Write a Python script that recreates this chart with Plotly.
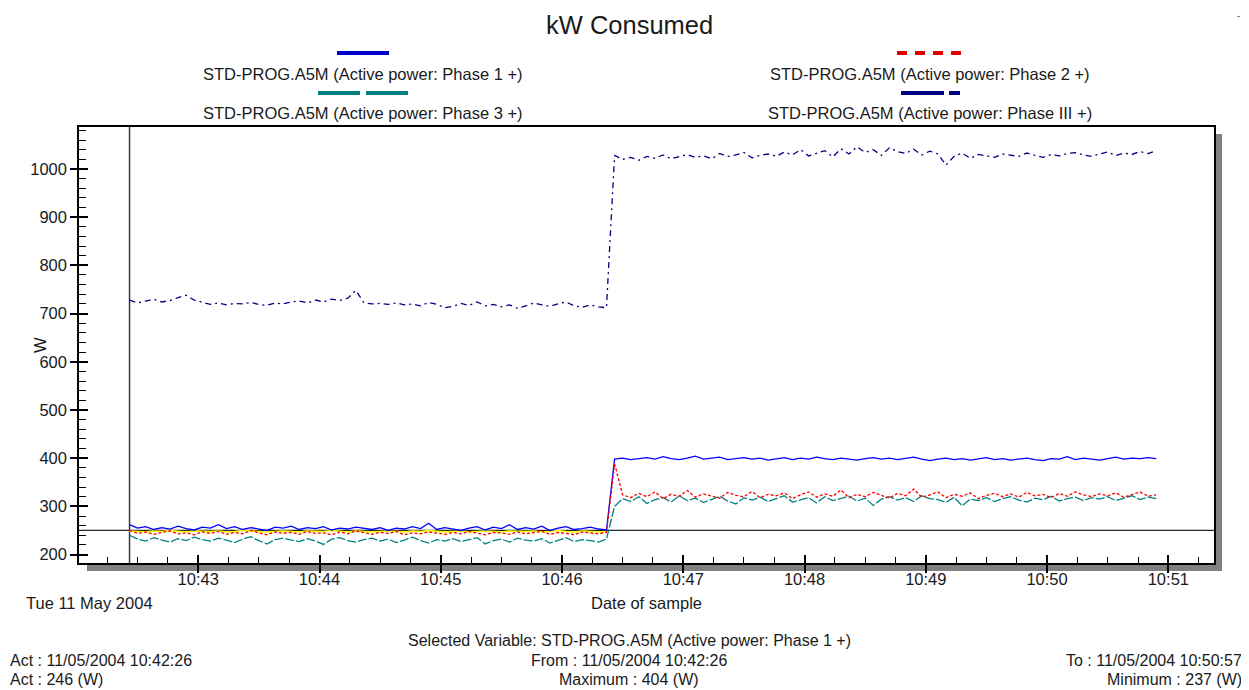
import pandas as pd
import plotly.graph_objects as go

# ---------------- data ----------------
start_time = "2004-05-11 10:42:26"
sample_seconds = 4
n_samples = 128
times = pd.date_range(start_time, periods=n_samples, freq=f"{sample_seconds}s")

phase1 = [
    262, 255, 258, 252, 256, 253, 259, 254, 251, 257,
    255, 262, 254, 258, 252, 256, 253, 250, 257, 255,
    259, 252, 256, 254, 258, 251, 255, 253, 257, 254,
    252, 256, 250, 255, 253, 258, 254, 265, 252, 256,
    253, 250, 255, 258, 251, 257, 254, 262, 252, 256,
    253, 259, 250, 255, 258, 252, 254, 257, 253, 251,
    398, 400, 397, 399, 401, 398, 403, 399, 397, 400,
    404, 398, 400, 402, 397, 399, 401, 398, 400, 396,
    399, 401, 397, 400, 398, 402, 399, 397, 400, 398,
    396, 399, 401, 398, 400, 397, 399, 402, 398, 395,
    398, 400, 397, 399, 396, 398, 401, 397, 399, 396,
    398, 400, 397, 395, 399, 398, 403, 397, 400, 398,
    396, 399, 402, 398, 400, 399, 401, 399,
]
phase2 = [
    250, 244, 247, 242, 246, 249, 243, 245, 241, 247,
    244, 248, 242, 246, 243, 250, 245, 241, 247, 244,
    246, 242, 248, 244, 245, 241, 247, 243, 249, 245,
    242, 246, 244, 248, 241, 245, 243, 247, 244, 242,
    246, 243, 248, 244, 241, 246, 245, 242, 247, 243,
    245, 248, 242, 246, 244, 241, 247, 245, 243, 246,
    388, 324, 318, 327, 320, 330, 316, 325, 321, 333,
    319, 326, 322, 317, 329, 323, 320, 331, 318, 325,
    322, 328, 316, 324, 330, 319, 326, 321, 334, 318,
    325, 320, 329, 323, 317, 327, 322, 336, 319, 324,
    330, 318, 325, 321, 328, 316, 323, 327, 320, 326,
    319, 329, 322, 325, 318, 327, 321, 330, 324, 320,
    326, 322, 328, 319, 325, 330, 321, 324,
]
phase3 = [
    240, 232, 228, 235, 230, 226, 233, 229, 236, 231,
    228, 234, 230, 225, 232, 237, 229, 222, 231, 234,
    230, 227, 233, 228, 221, 232, 235, 229, 226, 231,
    234, 228, 232, 225, 230, 236, 229, 224, 231, 228,
    233, 227, 231, 235, 222, 229, 232, 226, 234, 230,
    228, 233, 224, 230, 235, 227, 231, 229, 226, 232,
    300, 316, 310, 320, 306, 314, 318, 309, 322, 312,
    317, 308, 315, 321, 311, 305, 318, 313, 319, 310,
    316, 322, 309, 314, 318, 307, 320, 312, 316, 321,
    311, 317, 302, 315, 320, 313, 318, 310, 322, 316,
    314, 308, 319, 301, 315, 312, 318, 310, 316, 320,
    313, 309, 317, 314, 321, 311, 316, 319, 312, 318,
    315, 320, 312, 317, 322, 314, 319, 316,
]
phase_iii = [
    728, 722, 726, 730, 724, 727, 733, 738, 728,
    724, 719, 722, 718, 721, 720, 723, 719, 717, 722, 720, 724,
    726, 722, 728, 724, 730, 727, 732, 748, 722, 720,
    721, 719, 722, 718, 720, 716, 723, 719, 712, 715,
    721, 717, 724, 716, 719, 714, 718, 711, 716, 722,
    718, 715, 720, 724, 716, 713, 718, 714, 712,
    1028, 1020, 1024, 1018, 1026, 1022, 1029, 1021, 1025, 1030,
    1024, 1027, 1021, 1032, 1026, 1029, 1034, 1023, 1028, 1031,
    1026, 1035, 1029, 1040, 1027, 1033, 1038, 1025, 1042, 1031,
    1046, 1034, 1040, 1028, 1044, 1036, 1032, 1041, 1029, 1037,
    1031, 1008, 1026, 1033, 1022, 1030, 1027, 1024, 1031, 1028,
    1026, 1033, 1028, 1024, 1030, 1027, 1032, 1034, 1029, 1026,
    1031, 1035, 1028, 1033, 1030, 1036, 1032, 1038,
]
yellow_series = [
    249, 248, 247, 249, 248, 250, 248, 247, 249, 248,
    248, 249, 247, 248, 250, 249, 248, 247, 248, 249,
    248, 247, 249, 248, 248, 250, 248, 247, 249, 248,
    247, 248, 249, 248, 247, 249, 248, 250, 248, 247,
    248, 249, 247, 248, 249, 248, 247, 249, 248, 248,
    249, 247, 248, 250, 248, 247, 249, 248, 247, 248,
]
cursor_value = 250

legend_names = [
    "STD-PROG.A5M (Active power: Phase 1 +)",
    "STD-PROG.A5M (Active power: Phase 2 +)",
    "STD-PROG.A5M (Active power: Phase 3 +)",
    "STD-PROG.A5M (Active power: Phase III +)",
]
y_ticks = [200, 300, 400, 500, 600, 700, 800, 900, 1000]

assert len(phase1) == len(phase2) == len(phase3) == len(phase_iii) == n_samples

# ---------------- layout geometry ----------------
# the page body has an 8px margin, so the figure is shrunk by that amount
PAGE_OFF = 8
W, H = 1249 - PAGE_OFF, 690 - PAGE_OFF
L, R, T, B = 79, 1214, 127, 563          # plot area in screen pixels
FONT = "Liberation Sans, Arial, sans-serif"
FS = 16.5


def px(x):
    return (x - L) / (R - L)


def py(y):
    return (B - y) / (B - T)


BLUE = "#0000FF"
RED = "#FF0000"
TEAL = "#008080"
NAVY = "#000080"
YELLOW = "#FFFF00"

fig = go.Figure()
fig.add_trace(go.Scatter(x=times[:len(yellow_series)], y=yellow_series, mode="lines",
                         line=dict(color=YELLOW, width=1.5), hoverinfo="skip", showlegend=False))
fig.add_trace(go.Scatter(x=times, y=phase1, mode="lines", name=legend_names[0],
                         line=dict(color=BLUE, width=1.3)))
fig.add_trace(go.Scatter(x=times, y=phase3, mode="lines", name=legend_names[2],
                         line=dict(color=TEAL, width=1.3, dash="9px,2px")))
fig.add_trace(go.Scatter(x=times, y=phase2, mode="lines", name=legend_names[1],
                         line=dict(color=RED, width=1.3, dash="3px,2px")))
fig.add_trace(go.Scatter(x=times, y=phase_iii, mode="lines", name=legend_names[3],
                         line=dict(color=NAVY, width=1.3, dash="6px,4px,2px,4px")))
# invisible helper trace so the overlay axes (extra tick marks) get drawn
fig.add_trace(go.Scatter(x=[times[0]], y=[phase_iii[0]], xaxis="x2", yaxis="y2",
                         mode="markers", marker=dict(opacity=0), hoverinfo="skip",
                         showlegend=False))

x_range = ["2004-05-11 10:42:01", "2004-05-11 10:51:22.6"]
y_range = [182.5, 1087]

axis_common = dict(showgrid=False, zeroline=False, tickcolor="black")
fig.update_layout(
    width=W, height=H,
    margin=dict(l=L - PAGE_OFF, r=W - (R - PAGE_OFF), t=T - PAGE_OFF, b=H - (B - PAGE_OFF)),
    paper_bgcolor="white", plot_bgcolor="rgba(0,0,0,0)",
    showlegend=False,
    font=dict(family=FONT, size=FS, color="#1a1a1a"),
    xaxis=dict(type="date", range=x_range, dtick=60000, tick0="2004-05-11 10:00:00",
               tickformat="%H:%M", ticks="inside", ticklen=8, tickwidth=1.5,
               showline=True, linecolor="black", linewidth=1.5, mirror=True,
               minor=dict(dtick=15000, ticks="inside", ticklen=6, tickwidth=1, tickcolor="black"),
               tickfont=dict(size=FS, family=FONT, color="#1a1a1a"), **axis_common),
    yaxis=dict(range=y_range, tickvals=y_ticks, ticks="outside", ticklen=7, tickwidth=1.5,
               showline=True, linecolor="black", linewidth=1.5, mirror=True,
               minor=dict(dtick=20, ticks="inside", ticklen=7, tickwidth=1, tickcolor="black"),
               tickfont=dict(size=FS, family=FONT, color="#1a1a1a"), **axis_common),
    xaxis2=dict(type="date", overlaying="x", matches="x", anchor="y2", dtick=60000,
                tick0="2004-05-11 10:00:00", ticks="outside", ticklen=9, tickwidth=1.5,
                showticklabels=False, showline=False, **axis_common),
    yaxis2=dict(overlaying="y", matches="y", anchor="x2", tickvals=y_ticks, ticks="inside",
                ticklen=9, tickwidth=1.5, showticklabels=False, showline=False, **axis_common),
)

shapes = [
    # drop shadow and white plot face
    dict(type="rect", xref="paper", yref="paper", x0=px(87), x1=px(1222), y0=py(571), y1=py(134),
         fillcolor="#808080", line=dict(width=0), layer="below"),
    dict(type="rect", xref="paper", yref="paper", x0=0, x1=1, y0=0, y1=1,
         fillcolor="white", line=dict(width=0), layer="below"),
    # cursor lines
    dict(type="line", xref="x", yref="paper", x0=times[0], x1=times[0], y0=0, y1=1,
         line=dict(color="#3a3a3a", width=1.5), layer="below"),
    dict(type="line", xref="paper", yref="y", x0=0, x1=1, y0=cursor_value, y1=cursor_value,
         line=dict(color="#2a2a2a", width=1.3), layer="below"),
    # legend samples
    dict(type="line", xref="paper", yref="paper", x0=px(337), x1=px(389), y0=py(53), y1=py(53),
         line=dict(color="#0000CC", width=4)),
    dict(type="line", xref="paper", yref="paper", x0=px(897), x1=px(963), y0=py(53), y1=py(53),
         line=dict(color="#E00000", width=4, dash="10px,8px")),
    dict(type="line", xref="paper", yref="paper", x0=px(318), x1=px(408), y0=py(93), y1=py(93),
         line=dict(color=TEAL, width=4, dash="42px,6px")),
    dict(type="line", xref="paper", yref="paper", x0=px(901), x1=px(960), y0=py(93), y1=py(93),
         line=dict(color=NAVY, width=4, dash="43px,5px,11px,60px")),
]
fig.update_layout(shapes=shapes)


def ann(text, x, y, xanchor="center", size=FS, angle=0):
    return dict(text=text, xref="paper", yref="paper",
                x=px(x), y=py(y), xanchor=xanchor, yanchor="middle", showarrow=False,
                textangle=angle, font=dict(family=FONT, size=size, color="#1a1a1a"))


FB = 16
annotations = [
    ann("kW Consumed", 629, 25, size=25.5),
    ann(legend_names[0], 363, 74),
    ann(legend_names[2], 363, 113),
    ann(legend_names[1], 930, 74),
    ann(legend_names[3], 930, 113),
    ann("W", 40, 345, angle=-90),
    ann("Tue 11 May 2004", 24, 603, xanchor="left"),
    ann("Date of sample", 646, 603),
    ann("Selected Variable: STD-PROG.A5M (Active power: Phase 1 +)", 629, 640, size=FB),
    ann("Act : 11/05/2004 10:42:26", 8, 660, xanchor="left", size=FB),
    ann("From : 11/05/2004 10:42:26", 629, 660, size=FB),
    ann("To : 11/05/2004 10:50:57", 1244, 660, xanchor="right", size=FB),
    ann("Act : 246 (W)", 8, 679.5, xanchor="left", size=FB),
    ann("Maximum : 404 (W)", 629, 679.5, size=FB),
    ann("Minimum : 237 (W)", 1244, 679.5, xanchor="right", size=FB),
    ann("-", 1238, 16, size=9),
]
fig.update_layout(annotations=annotations)

fig.write_html("out.html")
